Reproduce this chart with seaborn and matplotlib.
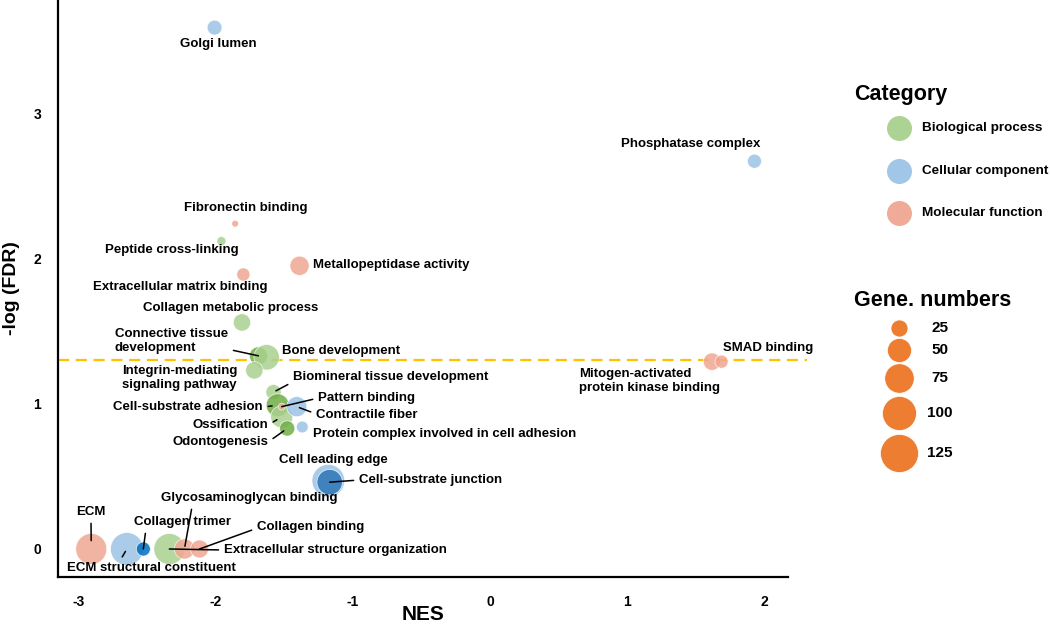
import matplotlib.pyplot as plt
import numpy as np
import pandas as pd
import seaborn as sns

# dados
terms = [
    "ECM", "ECM structural constituent", "Collagen trimer",
    "Extracellular structure organization", "Glycosaminoglycan binding", "Collagen binding",
    "Cell leading edge", "Cell-substrate junction",
    "Connective tissue development", "Bone development", "Integrin-mediating signaling pathway",
    "Biomineral tissue development", "Cell-substrate adhesion", "Ossification", "Odontogenesis",
    "Contractile fiber", "Protein complex involved in cell adhesion", "Pattern binding",
    "Golgi lumen", "Phosphatase complex", "Fibronectin binding", "Peptide cross-linking",
    "Extracellular matrix binding", "Metallopeptidase activity", "Collagen metabolic process",
    "Mitogen-activated protein kinase binding", "SMAD binding",
]
nes = [-2.91, -2.65, -2.53, -2.34, -2.23, -2.12,
       -1.18, -1.17,
       -1.69, -1.63, -1.72, -1.58, -1.55, -1.52, -1.48,
       -1.41, -1.37, -1.52,
       -2.01, 1.93, -1.86, -1.96, -1.80, -1.39, -1.81,
       1.62, 1.69]
neg_log_fdr = [0.0, 0.0, 0.0, 0.0, 0.0, 0.0,
               0.47, 0.46,
               1.33, 1.32, 1.23, 1.08, 0.99, 0.91, 0.83,
               0.98, 0.84, 0.98,
               3.59, 2.67, 2.24, 2.12, 1.89, 1.95, 1.56,
               1.29, 1.29]
gene_numbers = [83, 93, 17, 83, 35, 28,
                92, 56,
                28, 56, 26, 20, 45, 42, 20,
                35, 12, 4,
                19, 17, 4, 7, 15, 32, 26,
                26, 15]
tones = ["MF", "CC", "CC deep", "BP", "MF", "MF",
         "CC", "CC dark",
         "BP dark", "BP", "BP", "BP", "BP dark", "BP", "BP dark",
         "CC", "CC", "MF",
         "CC", "CC", "MF", "BP", "MF", "MF", "BP",
         "MF", "MF"]

categories = ["Biological process", "Cellular component", "Molecular function"]
legend_sizes = [25, 50, 75, 100, 125]
x_ticks = [-3, -2, -1, 0, 1, 2]
y_ticks = [0, 1, 2, 3]

palette = {
    "BP": "#A9D18E", "BP dark": "#70AD47",
    "CC": "#9DC3E6", "CC dark": "#2E75B6", "CC deep": "#0070C0",
    "MF": "#EFA792",
}
cat_colors = [palette["BP"], palette["CC"], palette["MF"]]
gene_color = "#ED7D31"
SIZE_K = 6.0  # area (pt^2) por gene

df = pd.DataFrame({"term": terms, "NES": nes, "nlf": neg_log_fdr,
                   "genes": gene_numbers, "tone": tones})

sns.set_theme(style="white")
plt.rcParams["font.family"] = ["Liberation Sans", "DejaVu Sans"]
plt.rcParams["text.color"] = "black"
plt.rcParams["axes.labelcolor"] = "black"
plt.rcParams["xtick.labelcolor"] = "black"
plt.rcParams["ytick.labelcolor"] = "black"

fig = plt.figure(figsize=(10.5, 6.44), dpi=100)
ax = fig.add_axes([0.0552, 0.104, 0.6953, 0.896])

sns.scatterplot(
    data=df, x="NES", y="nlf", hue="tone", palette=palette,
    size="genes", sizes=(0, SIZE_K * 125), size_norm=(0, 125),
    alpha=0.85, edgecolor="white", linewidth=0.5, legend=False, ax=ax, zorder=3,
)

# linha de corte FDR = 0.05
thr = -np.log10(0.05)
ax.plot([-3.153, 2.314], [thr, thr], color="#FFC000", lw=1.6,
        ls=(0, (5, 3)), clip_on=False, zorder=2)

ax.set_xlim(-3.153, 2.175)
ax.set_ylim(-0.193, 3.78)
ax.set_xticks(x_ticks)
ax.set_xticklabels([str(t) for t in x_ticks])
ax.set_yticks(y_ticks)
ax.set_yticklabels([str(t) for t in y_ticks])
for s in ["top", "right"]:
    ax.spines[s].set_visible(False)
for s in ["left", "bottom"]:
    ax.spines[s].set_color("black")
    ax.spines[s].set_linewidth(1.6)
ax.tick_params(axis="x", direction="out", length=7, width=2, color="#1F3864",
               pad=6, labelsize=10, labelcolor="black")
ax.tick_params(axis="y", direction="out", length=7, width=2, color="black",
               pad=5, labelsize=10, labelcolor="black")
for lab in ax.get_xticklabels() + ax.get_yticklabels():
    lab.set_fontweight("bold")
ax.set_xlabel("NES", fontsize=15, fontweight="bold", color="black")
ax.set_ylabel("-log (FDR)", fontsize=14, fontweight="bold", color="black")
ax.xaxis.set_label_coords(0.5, -0.049)
ax.yaxis.set_label_coords(-0.052, 0.5)

# rotulos: (x, y, ha, relpos da linha, shrinkB) -- None = sem linha
labels = {
    "Golgi lumen": (-1.985, 3.48, "center", None, 0),
    "Phosphatase complex": (1.467, 2.787, "center", None, 0),
    "Fibronectin binding": (-1.781, 2.347, "center", None, 0),
    "Peptide cross-linking": (-2.321, 2.058, "center", None, 0),
    "Extracellular matrix binding": (-2.263, 1.803, "center", None, 0),
    "Metallopeptidase activity": (-1.292, 1.955, "left", None, 0),
    "Collagen metabolic process": (-1.891, 1.659, "center", None, 0),
    "Connective tissue development": (-2.737, 1.432, "left", (0.82, 0.35), 0),
    "Bone development": (-1.518, 1.363, "left", None, 0),
    "Integrin-mediating signaling pathway": (-2.686, 1.177, "left", None, 0),
    "Biomineral tissue development": (-1.438, 1.184, "left", (0, 0.1), 2),
    "Cell-substrate adhesion": (-1.657, 0.977, "right", (1, 0.5), 4),
    "Pattern binding": (-1.255, 1.039, "left", (0, 0.5), 0),
    "Contractile fiber": (-1.270, 0.922, "left", (0, 0.6), 2),
    "Ossification": (-1.620, 0.853, "right", (1, 0.5), 4),
    "Odontogenesis": (-1.620, 0.736, "right", (1, 0.5), 3),
    "Protein complex involved in cell adhesion": (-1.292, 0.791, "left", None, 0),
    "Cell leading edge": (-1.146, 0.613, "center", None, 0),
    "Cell-substrate junction": (-0.956, 0.475, "left", (0, 0.5), 0),
    "Glycosaminoglycan binding": (-1.759, 0.351, "center", (0.18, 0), 2),
    "Collagen trimer": (-2.241, 0.186, "center", (0.12, 0), 0),
    "Collagen binding": (-1.701, 0.151, "left", (0, 0.4), 0),
    "Extracellular structure organization": (-1.942, -0.007, "left", (0, 0.5), 0),
    "ECM": (-2.912, 0.255, "center", (0.5, 0), 6),
    "ECM structural constituent": (-3.088, -0.131, "left", (0.31, 1), 2),
    "SMAD binding": (1.701, 1.383, "left", None, 0),
    "Mitogen-activated protein kinase binding": (0.650, 1.156, "left", None, 0),
}
display = {
    "Connective tissue development": "Connective tissue\ndevelopment",
    "Integrin-mediating signaling pathway": "Integrin-mediating\nsignaling pathway",
    "Mitogen-activated protein kinase binding": "Mitogen-activated\nprotein kinase binding",
}

for _, row in df.iterrows():
    tx, ty, ha, rel, shb = labels[row["term"]]
    txt = display.get(row["term"], row["term"])
    kw = dict(ha=ha, va="center", fontsize=9.5, fontweight="bold",
              color="black", linespacing=1.15, zorder=5)
    if rel is None:
        ax.text(tx, ty, txt, **kw)
    else:
        ax.annotate(txt, xy=(row["NES"], row["nlf"]), xytext=(tx, ty),
                    arrowprops=dict(arrowstyle="-", color="black", lw=1.1,
                                    relpos=rel, shrinkA=1.5, shrinkB=shb),
                    **kw)

# legendas desenhadas em coordenadas de pixel da figura
lax = fig.add_axes([0, 0, 1, 1])
lax.set_xlim(0, 1050)
lax.set_ylim(644, 0)
lax.axis("off")
lax.patch.set_alpha(0)

lax.text(854, 94, "Category", fontsize=15.5, fontweight="bold", va="center")
for i, (cat, col) in enumerate(zip(categories, cat_colors)):
    yy = 128 + i * 42.5
    lax.scatter([899], [yy], s=(25 * 0.72) ** 2, color=col, alpha=0.95, linewidths=0)
    lax.text(922, yy, cat, fontsize=9.7, fontweight="bold", va="center")

lax.text(854, 300, "Gene. numbers", fontsize=15.5, fontweight="bold", va="center")
gene_y = [328, 350, 378, 413, 453]
for n, yy in zip(legend_sizes, gene_y):
    lax.scatter([899], [yy], s=SIZE_K * n, color=gene_color, linewidths=0.5,
                edgecolors="white")
    lax.text(940, yy, str(n), fontsize=11, fontweight="bold", va="center", ha="center")

fig.savefig("out.png", dpi=100)
